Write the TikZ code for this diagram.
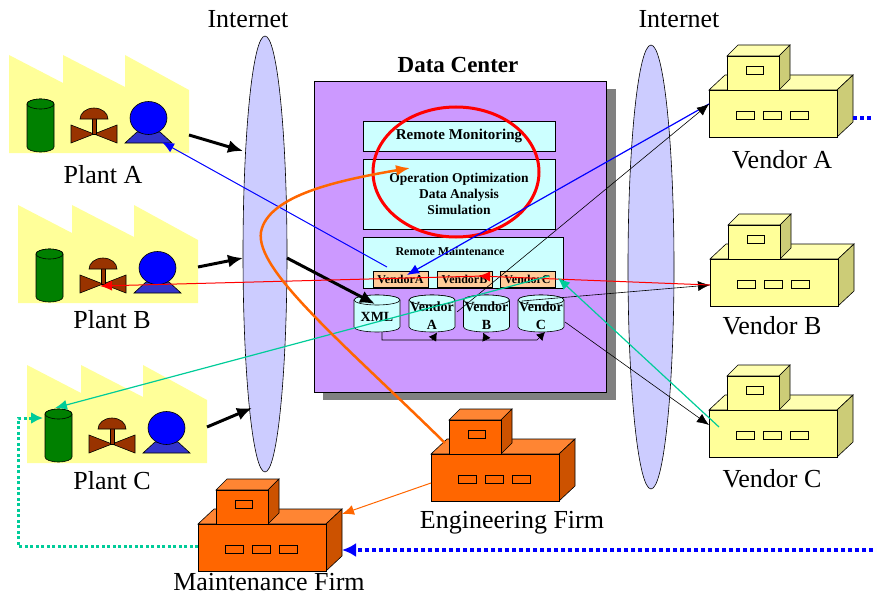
\documentclass[tikz,border=0pt]{standalone}
\usepackage{fontspec}
\setmainfont{Liberation Serif}
\usetikzlibrary{arrows.meta,calc}

\definecolor{plantyellow}{HTML}{FFFF99}
\definecolor{tankgreen}{HTML}{008000}
\definecolor{valvebrown}{HTML}{993300}
\definecolor{pumpblue}{HTML}{0000FF}
\definecolor{pumpbase}{HTML}{3333CC}
\definecolor{netblue}{HTML}{CCCCFF}
\definecolor{dcpurple}{HTML}{CC99FF}
\definecolor{dcshadow}{HTML}{808080}
\definecolor{boxcyan}{HTML}{CCFFFF}
\definecolor{tagpeach}{HTML}{FFCC99}
\definecolor{vendfront}{HTML}{FFFF99}
\definecolor{vendtop}{HTML}{FFFFB0}
\definecolor{vendside}{HTML}{CCCC77}
\definecolor{firmfront}{HTML}{FF6600}
\definecolor{firmtop}{HTML}{FF8533}
\definecolor{firmside}{HTML}{CC5200}
\definecolor{linkteal}{HTML}{00CC99}
\definecolor{linkorange}{HTML}{FF6600}

\tikzset{
  pics/plant/.style={code={
    %factory outline
    \fill[plantyellow] (0,0) -- (54,28) -- (54,0) -- (116,32) -- (116,0) -- (180,35) -- (180,98) -- (0,98) -- cycle;
    %tank
    \filldraw[fill=tankgreen] (18,49) -- (18,92) arc[start angle=180,end angle=0,x radius=13.5,y radius=5]
      -- (45,49) arc[start angle=0,end angle=-180,x radius=13.5,y radius=5] -- cycle;
    \filldraw[fill=tankgreen] (31.5,49) ellipse (13.5 and 5);
    %valve
    \filldraw[fill=valvebrown] (62,70) -- (85,79) -- (108,70) -- (108,88) -- (85,79) -- (62,88) -- cycle;
    \filldraw[fill=valvebrown] (83,63) rectangle (87,79);
    \filldraw[fill=valvebrown] (71,64) arc[start angle=180,end angle=360,x radius=14,y radius=11] -- cycle;
    %pump
    \filldraw[fill=pumpbase] (116,88) -- (128,77) -- (151,77) -- (163,88) -- cycle;
    \filldraw[fill=pumpblue] (139.5,63) ellipse (18.5 and 16.5);
    \coordinate (-east) at (180,62);
    \coordinate (-pump) at (153,87);
    \coordinate (-valve) at (82,81);
    \coordinate (-tank) at (28,43);
    \coordinate (-tankw) at (16,53);
  }},
  pics/building/.style n args={3}{code={
    %lower block
    \filldraw[fill=#2] (0,0) -- (16,-15) -- (144,-15) -- (128,0) -- cycle;
    \filldraw[fill=#3] (128,0) -- (144,-15) -- (144,32) -- (128,47) -- cycle;
    \filldraw[fill=#1] (0,0) rectangle (128,47);
    %upper block
    \filldraw[fill=#2] (18,-34) -- (29,-45) -- (81,-45) -- (70,-34) -- cycle;
    \filldraw[fill=#3] (70,-34) -- (81,-45) -- (81,-11) -- (70,0) -- cycle;
    \filldraw[fill=#1] (18,-34) rectangle (70,0);
    %windows
    \foreach \wx in {27,54,81}
      \draw (\wx,21) rectangle +(18,8);
    \draw (37,-24) rectangle +(17,8);
    \coordinate (-o) at (0,0);
  }},
  pics/drum/.style={code={
    \filldraw[fill=boxcyan] (-23,0) -- (-23,27) arc[start angle=180,end angle=0,x radius=23,y radius=5]
      -- (23,0) arc[start angle=0,end angle=-180,x radius=23,y radius=5] -- cycle;
    \filldraw[fill=boxcyan] (0,0) ellipse (23 and 5);
  }}
}

\begin{document}
\begin{tikzpicture}[x=1pt,y=-1pt,line width=0.6pt,
  bigtext/.style={anchor=base,font=\fontsize{26}{30}\selectfont},
  cyanbox/.style={draw,fill=boxcyan,inner sep=0pt,font=\bfseries\fontsize{15}{17}\selectfont},
  tagbox/.style={draw,fill=tagpeach,minimum width=55pt,minimum height=16pt,inner sep=0pt,
    font=\bfseries\fontsize{12}{13}\selectfont},
  drumtext/.style={align=center,inner sep=0pt,font=\bfseries\fontsize{14}{18}\selectfont},
  thin arrow/.style={-{Latex[length=12pt,width=10pt]}},
  thick arrow/.style={line width=3pt,-{Latex[length=15pt,width=13pt]}},
  bus arrow/.style={-{Latex[length=8pt,width=9pt]}}]
  \useasboundingbox (0,0) rectangle (873,594);

  %Internet
  \draw[fill=netblue] (265,254) ellipse (22 and 218);
  \draw[fill=netblue] (651,267) ellipse (23 and 222);
  \node[bigtext] (netl) at (248,28) {Internet};
  \node[bigtext] (netr) at (679,28) {Internet};
  \coordinate (inA) at (243,151);
  \coordinate (inB) at (243,258);
  \coordinate (inC) at (252,408);
  \coordinate (inX) at (287,258);

  %Data center
  \fill[dcshadow] (323,89) rectangle (616,400);
  \draw[fill=dcpurple] (314,81) rectangle (606,392);
  \node[anchor=base,font=\bfseries\fontsize{23}{26}\selectfont] (dc) at (458,73) {Data Center};
  \node[cyanbox,minimum width=192pt,minimum height=30pt] (remmon) at (459,136) {Remote Monitoring};
  \node[cyanbox,minimum width=192pt,minimum height=70pt,align=center,
    font=\bfseries\fontsize{13.5}{16}\selectfont] (optim) at (459,194)
    {Operation Optimization\\Data Analysis\\Simulation};
  \node[cyanbox,minimum width=200pt,minimum height=51pt] (remmaint) at (463,262.5) {};
  \node[font=\bfseries\fontsize{12}{14}\selectfont] (remmainttxt) at (450,251) {Remote Maintenance};
  \node[tagbox] (venda) at (400.5,279) {VendorA};
  \node[tagbox] (vendb) at (464.5,279) {VendorB};
  \node[tagbox] (vendc) at (527.5,279) {VendorC};

  %Databases
  \foreach \cx in {377,432,486.5,541}
    \pic at (\cx,300) {drum};
  \node[drumtext] (xml) at (377,317) {XML};
  \node[drumtext] (cyla) at (432,316) {Vendor\\A};
  \node[drumtext] (cylb) at (486.5,316) {Vendor\\B};
  \node[drumtext] (cylc) at (541,316) {Vendor\\C};
  \coordinate (xmlfoot) at (382,332);
  \coordinate (busend) at (537,340);
  \coordinate (cylcfoot) at (545,332);
  \draw[bus arrow] (xmlfoot) |- (busend) -- (cylcfoot);
  \draw[bus arrow] (cyla |- busend) -- ($(cyla)+(5,16.5)$);
  \draw[bus arrow] (cylb |- busend) -- ($(cylb)+(-3.5,16.5)$);

  \draw[red,line width=3pt] (456,172) ellipse (83 and 65);

  %Plants
  \pic (pA) at (9,55) {plant};
  \pic (pB) at (18,205) {plant};
  \pic (pC) at (27,365) {plant};
  \node[bigtext] (plA) at (103,183) {Plant A};
  \node[bigtext] (plB) at (112,328) {Plant B};
  \node[bigtext] (plC) at (112,489) {Plant C};

  %Vendors and firms
  \pic (vA) at (709,90) {building={vendfront}{vendtop}{vendside}};
  \pic (vB) at (710,259) {building={vendfront}{vendtop}{vendside}};
  \pic (vC) at (709,410) {building={vendfront}{vendtop}{vendside}};
  \pic (eF) at (431,454) {building={firmfront}{firmtop}{firmside}};
  \pic (mF) at (198,524) {building={firmfront}{firmtop}{firmside}};
  \node[bigtext] (vlA) at (782,168) {Vendor A};
  \node[bigtext] (vlB) at (772,334) {Vendor B};
  \node[bigtext] (vlC) at (772,487) {Vendor C};
  \node[bigtext] (flE) at (512,528) {Engineering Firm};
  \node[bigtext] (flM) at (269,590) {Maintenance Firm};

  %Plant uplinks
  \draw[thick arrow] ($(pA-east)+(0,18)$) -- (inA);
  \draw[thick arrow] (pB-east) -- (inB);
  \draw[thick arrow] (pC-east) -- (inC);
  \draw[thick arrow] (inX) -- ($(xml)+(-2,-13)$);

  %Maintenance links
  \draw[blue,line width=1pt,thin arrow] ($(remmaint)+(-76,4.5)$) -- (pA-pump);
  \draw[blue,line width=1.2pt,thin arrow] ($(vA-o)+(0,14)$) -- ($(venda)+(6.5,-4)$);
  \draw[thin arrow] ($(cyla)+(25,-4)$) -- ($(vA-o)+(0,14)$);
  \draw[thin arrow] ($(cylc)+(-19,-15)$) -- ($(vB-o)+(0,26)$);
  \draw[thin arrow] ($(cylc)+(24,6)$) -- ($(vC-o)+(0,15)$);
  \draw[red,line width=1pt,thin arrow] ($(vB-o)+(0,26)$) -- ($(vendb)+(13.5,-3)$);
  \draw[red,line width=1pt,thin arrow] ($(vendb)+(20,-3)$) -- (pB-valve);
  \draw[linkteal,line width=1.2pt,thin arrow] ($(vC-o)+(10,17)$) -- ($(vendc)+(30.5,-1)$);
  \draw[linkteal,line width=1.2pt,thin arrow] ($(vendc)+(21.5,-3)$) -- (pC-tank);
  \draw[linkorange,line width=2.5pt,-{Latex[length=14pt,width=11pt]}] ($(eF-o)+(14,-11)$)
    .. controls (340,340) and (255,270) .. (261,232)
    .. controls (268,195) and (340,180) .. (410,168);
  \draw[linkorange,line width=1pt,thin arrow] ($(eF-o)+(0,29)$) -- ($(mF-o)+(144,-10)$);

  %Dotted service lines
  \coordinate (edgeA) at (873,118);
  \coordinate (edgeM) at (873,550);
  \coordinate (loopL) at (18,546);
  \draw[blue,line width=3.5pt,dash pattern=on 4pt off 3pt] ($(vA-o)+(144,28)$) -- (edgeA);
  \draw[blue,line width=3.5pt,dash pattern=on 4pt off 3pt,-{Latex[length=14pt,width=14pt]}]
    (edgeM) -- ($(mF-o)+(144,26)$);
  \draw[linkteal,line width=3pt,dash pattern=on 3pt off 2.5pt,-{Latex[length=12pt,width=12pt]}]
    ($(mF-o)+(0,22)$) -- (loopL) |- (pC-tankw);
\end{tikzpicture}
\end{document}
